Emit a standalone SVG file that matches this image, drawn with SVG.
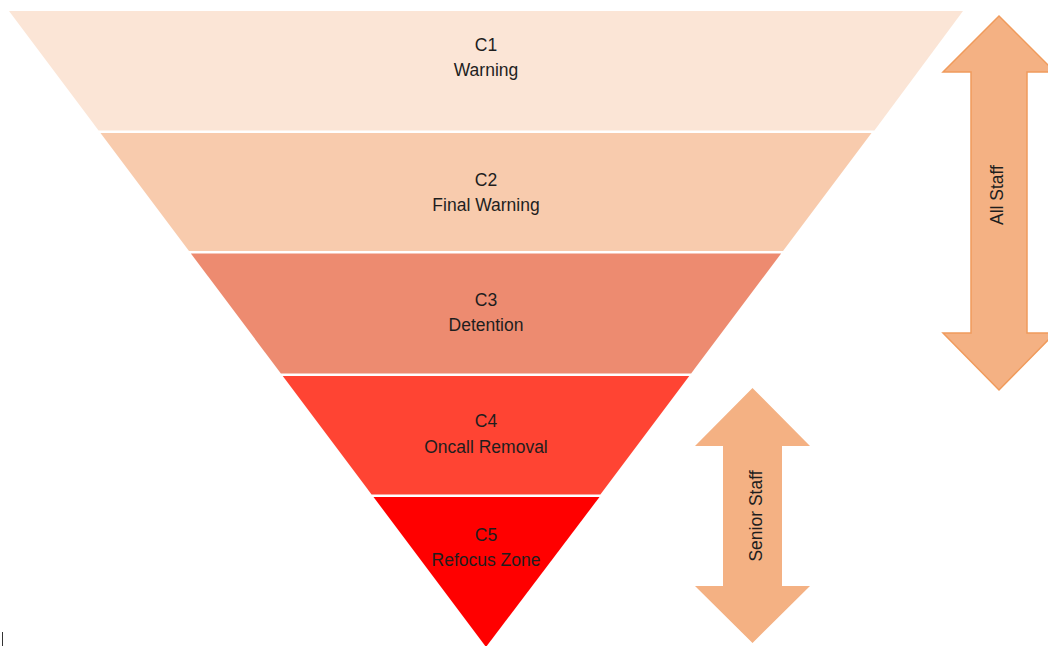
<svg xmlns="http://www.w3.org/2000/svg" width="1048" height="646" viewBox="0 0 1048 646">
<style>
.lbl{font-family:"Liberation Sans",Arial,sans-serif;font-size:17.5px;fill:#1e1e1e;text-anchor:middle}
.alb{font-family:"Liberation Sans",Arial,sans-serif;font-size:17.5px;fill:#1e1e1e;text-anchor:middle}
.arrow{fill:#F4B183}
</style>
<rect width="1048" height="646" fill="#ffffff"/>
<g id="c1">
<polygon points="9,11 963,11 874.4,130.5 98.6,130.5" fill="#FBE5D6"/>
<text class="lbl" x="486" y="51">C1</text>
<text class="lbl" x="486" y="76">Warning</text>
</g>
<g id="c2">
<polygon points="100.5,133 871.5,133 783,251 189,251" fill="#F8CBAD"/>
<text class="lbl" x="486" y="186">C2</text>
<text class="lbl" x="486" y="211">Final Warning</text>
</g>
<g id="c3">
<polygon points="190.9,253.5 781.1,253.5 691.1,373.5 280.9,373.5" fill="#ED8B70"/>
<text class="lbl" x="486" y="306">C3</text>
<text class="lbl" x="486" y="331">Detention</text>
</g>
<g id="c4">
<polygon points="282.75,376 689.25,376 600.4,494.5 371.6,494.5" fill="#FF4433"/>
<text class="lbl" x="486" y="427">C4</text>
<text class="lbl" x="486" y="453">Oncall Removal</text>
</g>
<g id="c5">
<polygon points="373.5,497 599.5,497 486,647" fill="#FF0000"/>
<text class="lbl" x="486" y="541">C5</text>
<text class="lbl" x="486" y="566">Refocus Zone</text>
</g>
<g id="all-staff">
<path class="arrow" d="M999,16 L1055,72 L1027,72 L1027,333 L1055,333 L999,390 L943,333 L971,333 L971,72 L943,72 Z" stroke="#F09B5C" stroke-width="1.5"/>
<text class="alb" transform="translate(1003,195) rotate(-90)" x="0" y="0">All Staff</text>
</g>
<g id="senior-staff">
<path class="arrow" d="M752.5,388 L810,446 L782,446 L782,586 L810,586 L752.5,643 L695,586 L723,586 L723,446 L695,446 Z"/>
<text class="alb" transform="translate(762,516) rotate(-90)" x="0" y="0">Senior Staff</text>
</g>
<g id="connectors"></g>
<line x1="2.5" y1="632" x2="2.5" y2="646" stroke="#333333" stroke-width="1"/>
</svg>
